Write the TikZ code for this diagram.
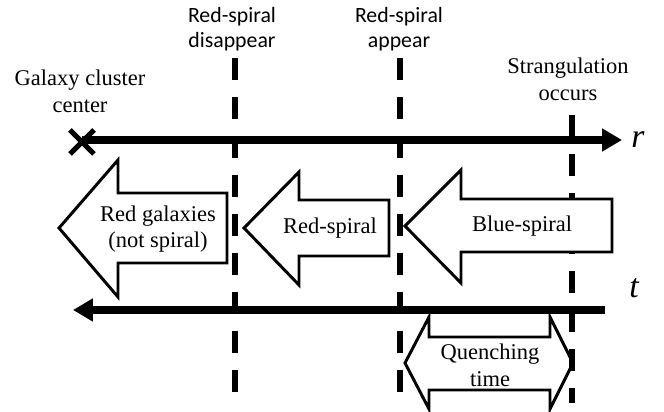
\documentclass[tikz,border=0pt]{standalone}
\usepackage{fontspec}
\setmainfont{Liberation Serif}
\newfontfamily\calibrifont{Carlito}
\usetikzlibrary{arrows.meta}

\begin{document}
\begin{tikzpicture}[x=0.025cm,y=-0.025cm,
    timeline/.style={dash pattern=on 15.6pt off 12.1pt,line width=4.3pt},
    axis/.style={line width=5pt,-{Triangle[length=14.2pt,width=15.6pt]}},
    blockarrow/.style={draw,fill=white,line width=2.1pt,line join=miter},
    serif/.style={font=\fontsize{16}{19}\selectfont,align=center,inner sep=0pt},
    sans/.style={font=\calibrifont\fontsize{15.5}{18}\selectfont,align=center,inner sep=0pt},
    var/.style={font=\fontsize{24}{28}\selectfont\itshape,inner sep=0pt}]
  \useasboundingbox (0,0) rectangle (664,412);

  % quenching time
  \draw[blockarrow] (405,363) -- (429,317) -- (429,337) -- (550,337) -- (550,317)
    -- (573,363) -- (550,409) -- (550,390) -- (429,390) -- (429,409) -- cycle;
  \node[serif] (quench) at (490,365) {Quenching\\time};

  % epochs
  \draw[timeline] (235,58) -- (235,398);
  \draw[timeline] (400,58) -- (400,396);
  \draw[timeline] (572,115) -- (572,403);
  \node[sans] (rsdis) at (232,29) {Red-spiral\\disappear};
  \node[sans] (rsapp) at (399,29) {Red-spiral\\appear};
  \node[serif] (strang) at (568,79) {Strangulation\\occurs};

  % r and t axes
  \coordinate (origin) at (82,140);
  \coordinate (rend) at (622,140);
  \coordinate (tstart) at (605,310);
  \coordinate (tend) at (73,310);
  \draw[axis] (origin) -- (rend);
  \draw[axis] (tstart) -- (tend);
  \node[var] (rlab) at (638,140) {r};
  \node[var] (tlab) at (634,288) {t};

  \draw[line width=3.6pt] (70,130) -- (94,154) (70,154) -- (94,130);
  \node[serif] (gcc) at (80,91) {Galaxy cluster\\center};

  % galaxy types
  \draw[blockarrow] (59,228) -- (118,160) -- (118,193) -- (227,193) -- (227,263)
    -- (118,263) -- (118,297) -- cycle;
  \node[serif] (redgal) at (158,229) {Red galaxies\\(not spiral)};
  \draw[blockarrow] (244,228) -- (299,172) -- (299,200) -- (389,200) -- (389,256)
    -- (299,256) -- (299,285) -- cycle;
  \node[serif] (redsp) at (330,228) {Red-spiral};
  \draw[blockarrow] (405,226) -- (461,170) -- (461,199) -- (612,199) -- (612,252)
    -- (461,252) -- (461,283) -- cycle;
  \node[serif] (bluesp) at (522,226) {Blue-spiral};
\end{tikzpicture}
\end{document}
